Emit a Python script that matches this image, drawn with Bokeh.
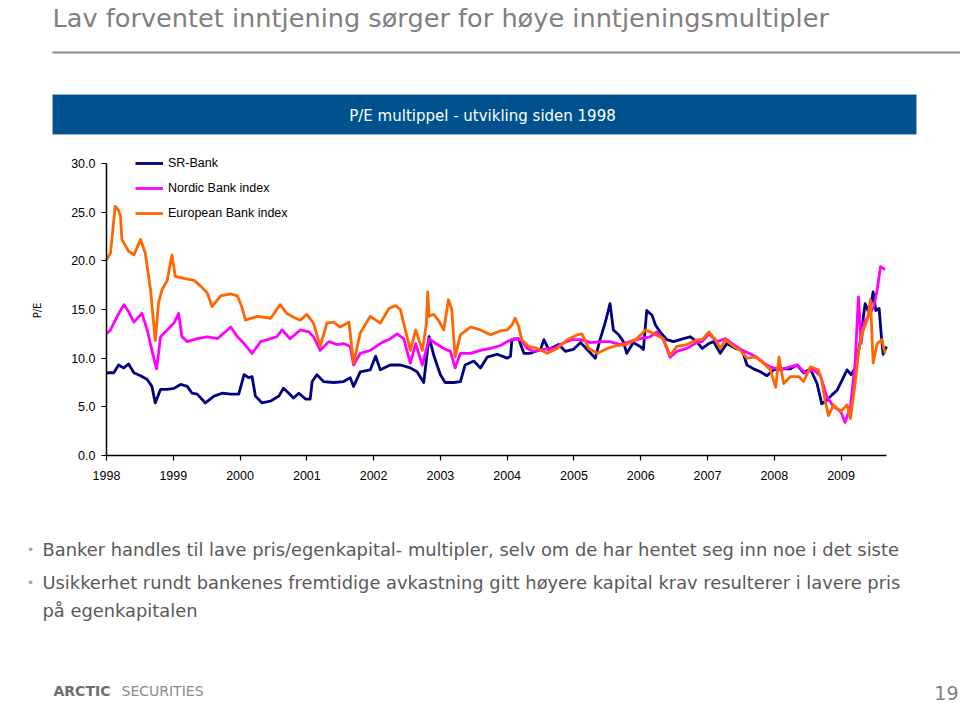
import math
from bokeh.plotting import figure
from bokeh.models import (Range1d, FixedTicker, NumeralTickFormatter, Legend, LegendItem,
                          Label, BoxAnnotation, LinearAxis)
from bokeh.embed import file_html
from bokeh.resources import INLINE

# ---------------- data (decimal year, P/E) ----------------
sr_bank = [
    (1998.00, 8.5), (1998.11, 8.5), (1998.18, 9.3), (1998.26, 9.0), (1998.33, 9.4), (1998.41, 8.5),
    (1998.51, 8.2), (1998.61, 7.8), (1998.68, 7.1), (1998.73, 5.4), (1998.81, 6.8), (1998.91, 6.8),
    (1999.01, 6.9), (1999.11, 7.3), (1999.21, 7.1), (1999.28, 6.4), (1999.36, 6.3), (1999.48, 5.4),
    (1999.61, 6.1), (1999.73, 6.4), (1999.86, 6.3), (1999.98, 6.3), (2000.06, 8.3), (2000.13, 8.0),
    (2000.18, 8.1), (2000.23, 6.1), (2000.33, 5.4), (2000.46, 5.6), (2000.58, 6.1), (2000.65, 6.9),
    (2000.73, 6.4), (2000.80, 5.9), (2000.88, 6.4), (2000.98, 5.8), (2001.05, 5.8), (2001.08, 7.6),
    (2001.15, 8.3), (2001.25, 7.6), (2001.40, 7.5), (2001.55, 7.6), (2001.65, 8.0), (2001.70, 7.1),
    (2001.80, 8.6), (2001.95, 8.8), (2002.03, 10.2), (2002.10, 8.8), (2002.25, 9.3), (2002.40, 9.3),
    (2002.55, 9.0), (2002.65, 8.6), (2002.75, 7.5), (2002.83, 12.2), (2002.90, 10.3), (2003.00, 8.3),
    (2003.07, 7.5), (2003.20, 7.5), (2003.30, 7.6), (2003.37, 9.3), (2003.50, 9.7), (2003.60, 9.0),
    (2003.70, 10.1), (2003.85, 10.4), (2004.00, 10.0), (2004.05, 10.2), (2004.07, 11.9), (2004.17, 12.0),
    (2004.25, 10.5), (2004.35, 10.5), (2004.50, 10.9), (2004.55, 11.9), (2004.62, 10.9), (2004.77, 11.4),
    (2004.87, 10.7), (2004.99, 10.9), (2005.10, 11.6), (2005.25, 10.5), (2005.32, 10.0), (2005.39, 11.9),
    (2005.47, 13.7), (2005.54, 15.6), (2005.59, 12.9), (2005.67, 12.4), (2005.74, 11.7), (2005.79, 10.5),
    (2005.89, 11.6), (2005.99, 11.2), (2006.04, 10.9), (2006.09, 14.9), (2006.17, 14.4), (2006.22, 13.4),
    (2006.29, 12.7), (2006.39, 11.9), (2006.49, 11.7), (2006.59, 11.9), (2006.74, 12.2), (2006.84, 11.7),
    (2006.92, 11.0), (2007.02, 11.5), (2007.09, 11.7), (2007.19, 10.5), (2007.29, 11.5), (2007.42, 11.0),
    (2007.52, 10.8), (2007.59, 9.3), (2007.69, 8.9), (2007.79, 8.6), (2007.89, 8.2), (2007.99, 8.8),
    (2008.09, 8.9), (2008.24, 8.9), (2008.34, 9.3), (2008.44, 8.5), (2008.54, 8.9), (2008.64, 7.4),
    (2008.71, 5.3), (2008.79, 5.7), (2008.86, 6.2), (2008.94, 6.7), (2009.04, 8.1), (2009.09, 8.8),
    (2009.15, 8.3), (2009.22, 9.1), (2009.29, 11.9), (2009.36, 15.6), (2009.42, 14.6), (2009.48, 16.8),
    (2009.52, 14.9), (2009.57, 15.1), (2009.60, 12.5), (2009.63, 10.4), (2009.68, 11.2),
]

nordic_bank_index = [
    (1998.00, 12.5), (1998.06, 12.9), (1998.16, 14.3), (1998.26, 15.5), (1998.33, 14.8), (1998.41, 13.7),
    (1998.53, 14.6), (1998.61, 12.9), (1998.68, 10.8), (1998.75, 8.9), (1998.81, 12.2), (1998.91, 12.9),
    (1999.01, 13.6), (1999.08, 14.6), (1999.13, 12.2), (1999.21, 11.7), (1999.36, 12.0), (1999.51, 12.2),
    (1999.66, 12.0), (1999.86, 13.2), (1999.96, 12.2), (2000.06, 11.5), (2000.18, 10.5), (2000.31, 11.7),
    (2000.41, 11.9), (2000.55, 12.2), (2000.63, 12.9), (2000.75, 12.0), (2000.90, 12.9), (2001.03, 12.7),
    (2001.10, 12.2), (2001.20, 10.8), (2001.33, 11.7), (2001.45, 11.4), (2001.55, 11.5), (2001.65, 11.2),
    (2001.70, 9.3), (2001.80, 10.5), (2001.95, 10.8), (2002.10, 11.5), (2002.25, 12.0), (2002.35, 12.5),
    (2002.45, 12.0), (2002.55, 9.5), (2002.63, 11.5), (2002.73, 9.3), (2002.83, 12.0), (2002.93, 11.5),
    (2003.05, 11.0), (2003.15, 10.7), (2003.22, 9.0), (2003.30, 10.5), (2003.45, 10.5), (2003.60, 10.8),
    (2003.75, 11.0), (2003.90, 11.3), (2004.00, 11.7), (2004.10, 12.0), (2004.20, 11.9), (2004.30, 11.0),
    (2004.40, 10.7), (2004.55, 10.9), (2004.70, 11.0), (2004.85, 11.6), (2004.97, 11.9), (2005.10, 11.9),
    (2005.25, 11.6), (2005.40, 11.7), (2005.54, 11.7), (2005.69, 11.4), (2005.84, 11.7), (2005.99, 12.0),
    (2006.14, 12.2), (2006.24, 12.7), (2006.34, 11.9), (2006.44, 10.1), (2006.54, 10.7), (2006.69, 11.0),
    (2006.84, 11.6), (2006.92, 11.7), (2007.02, 12.5), (2007.14, 11.7), (2007.27, 12.0), (2007.39, 11.4),
    (2007.52, 10.8), (2007.62, 10.5), (2007.74, 10.1), (2007.84, 9.5), (2007.94, 9.1), (2008.09, 8.8),
    (2008.24, 9.1), (2008.34, 9.3), (2008.46, 8.5), (2008.59, 8.8), (2008.69, 8.2), (2008.79, 6.0),
    (2008.89, 5.0), (2008.99, 4.6), (2009.06, 3.4), (2009.14, 5.0), (2009.21, 9.5), (2009.26, 16.3),
    (2009.30, 11.5), (2009.34, 13.6), (2009.41, 14.3), (2009.49, 15.3), (2009.54, 17.0), (2009.59, 19.4),
    (2009.66, 19.1),
]

european_bank_index = [
    (1998.00, 20.1), (1998.06, 20.8), (1998.13, 25.6), (1998.18, 25.2), (1998.21, 24.6), (1998.23, 22.2),
    (1998.33, 21.0), (1998.41, 20.6), (1998.51, 22.2), (1998.58, 20.8), (1998.66, 17.0), (1998.73, 11.8),
    (1998.78, 15.7), (1998.83, 17.0), (1998.91, 18.0), (1998.98, 20.6), (1999.03, 18.4), (1999.16, 18.2),
    (1999.31, 18.0), (1999.41, 17.4), (1999.51, 16.7), (1999.58, 15.3), (1999.71, 16.4), (1999.86, 16.6),
    (1999.96, 16.4), (2000.03, 15.2), (2000.08, 13.9), (2000.26, 14.3), (2000.46, 14.1), (2000.60, 15.5),
    (2000.70, 14.6), (2000.80, 14.2), (2000.90, 13.9), (2001.00, 14.5), (2001.10, 13.6), (2001.20, 11.2),
    (2001.30, 13.6), (2001.40, 13.7), (2001.50, 13.2), (2001.63, 13.7), (2001.70, 9.5), (2001.80, 12.6),
    (2001.95, 14.3), (2002.10, 13.6), (2002.23, 15.1), (2002.33, 15.4), (2002.40, 15.0), (2002.45, 13.6),
    (2002.55, 10.8), (2002.63, 12.9), (2002.73, 10.8), (2002.79, 13.5), (2002.81, 16.8), (2002.83, 14.3),
    (2002.90, 14.5), (2002.97, 13.9), (2003.05, 12.9), (2003.12, 16.0), (2003.17, 15.0), (2003.22, 10.1),
    (2003.30, 12.4), (2003.45, 13.2), (2003.60, 12.9), (2003.75, 12.4), (2003.90, 12.8), (2004.00, 12.9),
    (2004.07, 13.4), (2004.12, 14.1), (2004.17, 13.3), (2004.22, 11.9), (2004.32, 11.2), (2004.45, 11.0),
    (2004.60, 10.5), (2004.75, 11.0), (2004.90, 11.9), (2005.05, 12.4), (2005.12, 12.5), (2005.22, 11.0),
    (2005.35, 10.5), (2005.50, 11.0), (2005.64, 11.3), (2005.79, 11.4), (2005.94, 12.0), (2006.07, 12.9),
    (2006.14, 12.7), (2006.22, 12.4), (2006.34, 12.0), (2006.44, 10.3), (2006.54, 11.2), (2006.69, 11.4),
    (2006.84, 11.9), (2006.92, 11.9), (2007.02, 12.7), (2007.12, 11.9), (2007.19, 11.0), (2007.27, 11.9),
    (2007.39, 11.2), (2007.49, 10.8), (2007.59, 10.0), (2007.72, 10.1), (2007.82, 9.6), (2007.94, 8.8),
    (2008.02, 7.0), (2008.07, 10.1), (2008.14, 7.4), (2008.24, 8.1), (2008.37, 8.1), (2008.44, 7.6),
    (2008.54, 9.1), (2008.66, 8.8), (2008.71, 7.7), (2008.76, 5.7), (2008.81, 4.1), (2008.89, 5.2),
    (2008.99, 4.5), (2009.09, 5.2), (2009.14, 3.8), (2009.21, 7.4), (2009.26, 10.5), (2009.31, 12.5),
    (2009.39, 13.9), (2009.44, 16.0), (2009.48, 9.5), (2009.54, 11.5), (2009.61, 11.9), (2009.66, 10.5),
]

series_names = ["SR-Bank", "Nordic Bank index", "European Bank index"]
series_colors = ["#000080", "#FF00FF", "#FF6600"]
year_ticks = list(range(1998, 2010))
pe_ticks = [0, 5, 10, 15, 20, 25, 30]

title_text = "Lav forventet inntjening sørger for høye inntjeningsmultipler"
banner_text = "P/E multippel - utvikling siden 1998"
bullet_texts = [
    "Banker handles til lave pris/egenkapital- multipler, selv om de har hentet seg inn noe i det siste",
    "Usikkerhet rundt bankenes fremtidige avkastning gitt høyere kapital krav resulterer i lavere pris",
]
bullet_cont = "på egenkapitalen"
page_number = "19"

# ---------------- layout (canvas pixels, top-left origin) ----------------
W, H = 960, 708
FL, FR, FT, FB = 106, 886, 163, 455  # chart area in canvas pixels
X0, X1 = 1998.0, 2009.68             # chart x extent (years)
Y0, Y1 = 0.0, 30.0                   # chart y extent (P/E)

def dx(px):
    return X0 + (px - FL) * (X1 - X0) / (FR - FL)

def dy(py):
    return Y0 + (FB - py) * (Y1 - Y0) / (FB - FT)

# whole canvas is the frame; chart axes are placed at fixed locations inside it
p = figure(width=W, height=H, output_backend="svg", toolbar_location=None, title=None,
           x_range=Range1d(dx(0), dx(W)), y_range=Range1d(dy(H), dy(0)),
           x_axis_location=None, y_axis_location=None, min_border=0)
p.outline_line_color = None
p.xgrid.visible = False
p.ygrid.visible = False
p.background_fill_color = "white"
p.border_fill_color = "white"

AX_FONT = "Liberation Sans"
xaxis = LinearAxis(fixed_location=Y0, bounds=(X0, X1), ticker=FixedTicker(ticks=year_ticks),
                   formatter=NumeralTickFormatter(format="0"))
yaxis = LinearAxis(fixed_location=X0, bounds=(Y0, Y1), ticker=FixedTicker(ticks=pe_ticks),
                   formatter=NumeralTickFormatter(format="0.0"))
for ax in (xaxis, yaxis):
    ax.axis_line_color = "#000000"
    ax.axis_line_width = 1.5
    ax.major_tick_line_color = "#000000"
    ax.major_tick_line_width = 1.2
    ax.major_tick_out = 5
    ax.major_tick_in = 0
    ax.minor_tick_line_color = None
    ax.major_label_text_font = AX_FONT
    ax.major_label_text_font_size = "12.5px"
    ax.major_label_text_color = "#000000"
xaxis.major_label_standoff = 10
yaxis.major_label_standoff = 6
p.add_layout(xaxis, "below")
p.add_layout(yaxis, "left")

renderers = []
for data, name, color in zip([sr_bank, nordic_bank_index, european_bank_index], series_names, series_colors):
    xs = [t for t, v in data]
    ys = [v for t, v in data]
    r = p.line(xs, ys, line_color=color, line_width=2.8, line_join="round")
    renderers.append((name, r))

legend = Legend(items=[LegendItem(label=n, renderers=[r]) for n, r in renderers],
                orientation="vertical",
                glyph_width=28, glyph_height=20, label_height=20, spacing=5,
                label_standoff=5, padding=0, margin=0,
                border_line_color=None, background_fill_alpha=0,
                label_text_font=AX_FONT, label_text_font_size="12.5px", label_text_color="#000000")
legend.location = (135, H - 153 - 70)
p.add_layout(legend)

# ---------------- slide texts ----------------
SLIDE_FONT = "DejaVu Sans"
p.add_layout(Label(x=dx(52), y=dy(17), text=title_text, text_font=SLIDE_FONT, text_font_size="25.6px",
                   text_color="#808080", text_align="left", text_baseline="middle"))
p.add_layout(BoxAnnotation(left=dx(52), right=dx(960), top=dy(51), bottom=dy(53),
                           fill_color="#8C8C8C", fill_alpha=1, line_color=None))
p.add_layout(BoxAnnotation(left=dx(52), right=dx(916), top=dy(94), bottom=dy(134),
                           fill_color="#00528F", fill_alpha=1, line_color="#B7C7D6", line_width=1))
p.add_layout(Label(x=dx(482), y=dy(115), text=banner_text, text_font=SLIDE_FONT, text_font_size="15px",
                   text_color="#FFFFFF", text_align="center", text_baseline="middle"))
p.add_layout(Label(x=dx(37), y=dy(310), text="P/E", text_font=SLIDE_FONT, text_font_size="10px",
                   text_color="#000000", text_align="center", text_baseline="middle", angle=math.pi / 2))

for txt, ypx in zip(bullet_texts, [549, 582]):
    p.add_layout(Label(x=dx(30), y=dy(ypx), text="•", text_font=SLIDE_FONT, text_font_size="13px",
                       text_color="#A6A6A6", text_align="center", text_baseline="middle"))
    p.add_layout(Label(x=dx(42), y=dy(ypx), text=txt, text_font=SLIDE_FONT, text_font_size="17.85px",
                       text_color="#595959", text_align="left", text_baseline="middle"))
p.add_layout(Label(x=dx(42), y=dy(610), text=bullet_cont, text_font=SLIDE_FONT, text_font_size="17.85px",
                   text_color="#595959", text_align="left", text_baseline="middle"))

p.add_layout(Label(x=dx(53), y=dy(690), text="ARCTIC", text_font=SLIDE_FONT, text_font_size="14px",
                   text_font_style="bold", text_color="#6E6E6E", text_align="left", text_baseline="middle"))
p.add_layout(Label(x=dx(121), y=dy(690), text="SECURITIES", text_font=SLIDE_FONT, text_font_size="14px",
                   text_color="#8A8A8A", text_align="left", text_baseline="middle"))
p.add_layout(Label(x=dx(958), y=dy(692), text=page_number, text_font=SLIDE_FONT, text_font_size="19px",
                   text_color="#7F7F7F", text_align="right", text_baseline="middle"))

open("out.html", "w").write(file_html(p, INLINE))
